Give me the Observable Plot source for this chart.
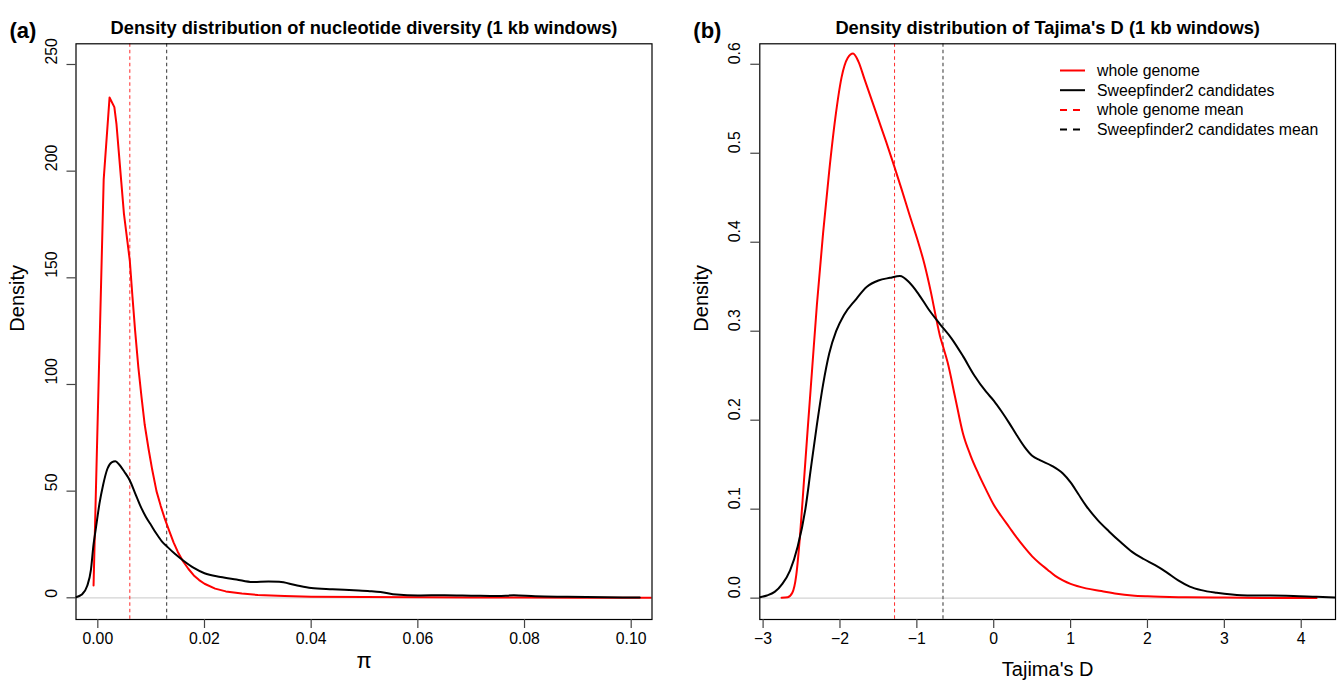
<!DOCTYPE html>
<html><head><meta charset="utf-8">
<script src="https://cdn.jsdelivr.net/npm/d3@7"></script>
<script src="https://cdn.jsdelivr.net/npm/@observablehq/plot@0.6"></script>
<style>
body{margin:0;background:#fff;}
#wrap{display:flex;width:1338px;height:687px;overflow:hidden;}
svg{font-family:"Liberation Sans",Arial,Helvetica,sans-serif;}
</style>
</head><body><div id="wrap"></div>
<script>
// ---------- Panel (a): nucleotide diversity (pi) ----------
const piTicksX = [0, 0.02, 0.04, 0.06, 0.08, 0.10];
const piTicksY = [0, 50, 100, 150, 200, 250];
const piMeanWhole = 0.0060;
const piMeanCand = 0.0129;
const piWhole = [
  [-0.0008,5.8],[0.0011,196],[0.0022,234.5],[0.0031,230],[0.0035,222],[0.0039,210],[0.0044,195],
  [0.0049,180],[0.0055,168],[0.0060,158],[0.0065,141],[0.0070,125],[0.0076,108],[0.0082,94],
  [0.0088,81],[0.0095,70],[0.0102,60],[0.0110,50],[0.0118,43],[0.0125,37.5],[0.0133,32],
  [0.0142,26],[0.0150,21.5],[0.0160,17],[0.0170,13.5],[0.0180,10.5],[0.0190,8.3],[0.0200,6.6],
  [0.0220,4.3],[0.0240,3],[0.0270,2],[0.0300,1.3],[0.0350,0.8],[0.0400,0.55],[0.0500,0.35],
  [0.0600,0.22],[0.0700,0.15],[0.0800,0.1],[0.0900,0.06],[0.1050,0.03]
];
const piCand = [
  [-0.0041,0.3],[-0.0030,1.5],[-0.0020,5.5],[-0.0013,13],[-0.0008,25],[-0.0004,32],[0.0003,44],
  [0.0010,53],[0.0018,60.5],[0.0026,63.5],[0.0033,64],[0.0040,62.5],[0.0050,59],[0.0060,55],
  [0.0070,49],[0.0080,43],[0.0090,38],[0.0100,34],[0.0110,30],[0.0120,26.5],[0.0130,24],
  [0.0145,20.5],[0.0160,17.5],[0.0180,14],[0.0200,11.5],[0.0230,9.8],[0.0260,8.6],[0.0290,7.4],
  [0.0320,7.6],[0.0340,7.5],[0.0370,6],[0.0400,4.6],[0.0440,4],[0.0480,3.5],[0.0510,3.1],
  [0.0530,2.7],[0.0560,1.5],[0.0600,1.1],[0.0650,1.2],[0.0700,1.0],[0.0750,0.8],[0.0780,1.2],
  [0.0820,0.7],[0.0880,0.5],[0.0950,0.3],[0.1016,0.1]
];

// ---------- Panel (b): Tajima's D ----------
const tdTicksX = [-3, -2, -1, 0, 1, 2, 3, 4];
const tdTicksY = [0, 0.1, 0.2, 0.3, 0.4, 0.5, 0.6];
const tdMeanWhole = -1.29;
const tdMeanCand = -0.66;
const tdWhole = [
  [-2.76,0.0005],[-2.68,0.001],[-2.62,0.006],[-2.57,0.025],[-2.52,0.07],[-2.47,0.13],[-2.42,0.19],
  [-2.36,0.26],[-2.30,0.33],[-2.22,0.41],[-2.14,0.48],[-2.06,0.54],[-1.98,0.585],[-1.90,0.607],
  [-1.83,0.612],[-1.76,0.603],[-1.68,0.583],[-1.60,0.563],[-1.50,0.538],[-1.40,0.513],[-1.30,0.487],
  [-1.20,0.46],[-1.10,0.432],[-1.00,0.405],[-0.90,0.375],[-0.82,0.345],[-0.75,0.315],[-0.70,0.295],
  [-0.66,0.283],[-0.60,0.265],[-0.50,0.225],[-0.40,0.185],[-0.30,0.16],[-0.20,0.14],[-0.10,0.122],
  [0.00,0.105],[0.10,0.092],[0.20,0.08],[0.30,0.068],[0.40,0.057],[0.50,0.047],[0.60,0.039],
  [0.70,0.032],[0.80,0.025],[0.90,0.02],[1.00,0.016],[1.20,0.011],[1.40,0.008],[1.60,0.005],
  [1.80,0.003],[2.00,0.002],[2.50,0.001],[3.00,0.0006],[3.50,0.0003],[4.20,0.0001]
];
const tdCand = [
  [-3.043,0.001],[-2.95,0.003],[-2.85,0.007],[-2.75,0.016],[-2.65,0.031],[-2.55,0.058],[-2.45,0.1],
  [-2.38,0.145],[-2.30,0.195],[-2.22,0.24],[-2.14,0.275],[-2.05,0.3],[-1.95,0.318],[-1.80,0.335],
  [-1.65,0.35],[-1.50,0.357],[-1.35,0.36],[-1.22,0.362],[-1.10,0.355],[-0.98,0.342],[-0.85,0.325],
  [-0.70,0.308],[-0.55,0.292],[-0.40,0.272],[-0.25,0.25],[-0.10,0.232],[0.00,0.222],[0.10,0.21],
  [0.20,0.197],[0.30,0.183],[0.40,0.17],[0.50,0.16],[0.60,0.155],[0.75,0.149],[0.90,0.14],
  [1.00,0.13],[1.10,0.117],[1.20,0.104],[1.35,0.088],[1.50,0.075],[1.65,0.063],[1.80,0.052],
  [1.95,0.044],[2.10,0.037],[2.25,0.029],[2.40,0.02],[2.55,0.013],[2.70,0.009],[2.90,0.006],
  [3.10,0.004],[3.30,0.003],[3.60,0.003],[3.90,0.0025],[4.20,0.0015],[4.45,0.0008]
];

const legendLabels = ["whole genome", "Sweepfinder2 candidates", "whole genome mean", "Sweepfinder2 candidates mean"];
const legendColors = ["#ff0000", "#000000", "#ff0000", "#000000"];
const legendDashed = [false, false, true, true];

const FONT = '"Liberation Sans",Arial,Helvetica,sans-serif';
const TICK = 15.8;
const minus = s => s.replace("-", "\u2212");

function panel(o) {
  return Plot.plot({
    width: o.width, height: 687,
    marginTop: 43.3, marginBottom: 68, marginLeft: o.ml, marginRight: o.mr,
    x: {domain: o.xdom, axis: null},
    y: {domain: o.ydom, axis: null},
    style: {fontFamily: FONT, background: "white", overflow: "visible", color: "black"},
    marks: [
      Plot.ruleY([0], {stroke: "#d3d3d3", strokeWidth: 1.2}),
      Plot.ruleX([o.meanWhole], {stroke: "#ff2a2a", strokeWidth: 1, strokeDasharray: "3.5,3"}),
      Plot.ruleX([o.meanCand], {stroke: "#555555", strokeWidth: 1.2, strokeDasharray: "3.5,3"}),
      Plot.line(o.whole, {x: d => d[0], y: d => d[1], stroke: "#ff0000", strokeWidth: 2, curve: o.wholeCurve, clip: true}),
      Plot.line(o.cand, {x: d => d[0], y: d => d[1], stroke: "#000000", strokeWidth: 2, curve: "monotone-x", clip: true}),
      Plot.frame({stroke: "black", strokeWidth: 1.2}),
      Plot.axisX({ticks: o.xticks, tickSize: 9, tickFormat: () => "", stroke: "#444", strokeWidth: 1.2, label: null}),
      Plot.axisY({ticks: o.yticks, tickSize: 9, tickFormat: () => "", stroke: "#444", strokeWidth: 1.2, label: null}),
      Plot.text(o.xticks, {x: d => d, frameAnchor: "bottom", dy: 24, text: o.xfmt, fontSize: TICK, fill: "black"}),
      Plot.text(o.yticks, {y: d => d, frameAnchor: "left", dx: -24.5, rotate: -90, text: o.yfmt, fontSize: TICK, fill: "black"}),
      Plot.text([o.title], {frameAnchor: "top", dy: -23, fontSize: 18.3, fontWeight: "bold", fill: "black"}),
      Plot.text([o.tag], {frameAnchor: "top-left", dx: o.tagDx, dy: -21, textAnchor: "start", fontSize: 22, fontWeight: "bold", fill: "black"}),
      Plot.text(["Density"], {frameAnchor: "left", dx: o.ylabDx, rotate: -90, fontSize: 20, fill: "black"}),
      Plot.text([o.xlab], {frameAnchor: "bottom", dy: o.xlabDy, fontSize: o.xlabSize, fill: "black"})
    ]
  });
}

const svgA = panel({
  width: 684, ml: 75.5, mr: 32.5,
  xdom: [-0.00409, 0.1039], ydom: [-10.17, 259.7],
  xticks: piTicksX, yticks: piTicksY,
  xfmt: d => d3.format(".2f")(d), yfmt: d => String(d),
  whole: piWhole, cand: piCand, wholeCurve: "linear",
  meanWhole: piMeanWhole, meanCand: piMeanCand,
  title: "Density distribution of nucleotide diversity (1 kb windows)",
  tag: "(a)", tagDx: -66.5, ylabDx: -58.5,
  xlab: "\u03c0", xlabDy: 48, xlabSize: 22
});

const svgB = panel({
  width: 654, ml: 75.3, mr: 3,
  xdom: [-3.043, 4.446], ydom: [-0.024, 0.623],
  xticks: tdTicksX, yticks: tdTicksY,
  xfmt: d => minus(String(d)), yfmt: d => d3.format(".1f")(d),
  whole: tdWhole, cand: tdCand, wholeCurve: "monotone-x",
  meanWhole: tdMeanWhole, meanCand: tdMeanCand,
  title: "Density distribution of Tajima's D (1 kb windows)",
  tag: "(b)", tagDx: -66.5, ylabDx: -58.5,
  xlab: "Tajima's D", xlabDy: 56, xlabSize: 20
});

// legend in panel (b)
const lg = d3.select(svgB).append("g").attr("font-family", FONT).attr("font-size", 15.8).attr("text-anchor", "start");
legendLabels.forEach((lab, i) => {
  const y = 70.5 + i * 19.7;
  lg.append("line").attr("x1", 376).attr("x2", 401).attr("y1", y).attr("y2", y)
    .attr("stroke", legendColors[i]).attr("stroke-width", 2)
    .attr("stroke-dasharray", legendDashed[i] ? "7,6" : null);
  lg.append("text").attr("x", 413).attr("y", y).attr("dy", "0.35em").attr("text-anchor", "start").attr("fill", "black").text(lab);
});

const wrap = document.getElementById("wrap");
wrap.appendChild(svgA);
wrap.appendChild(svgB);
</script></body></html>
